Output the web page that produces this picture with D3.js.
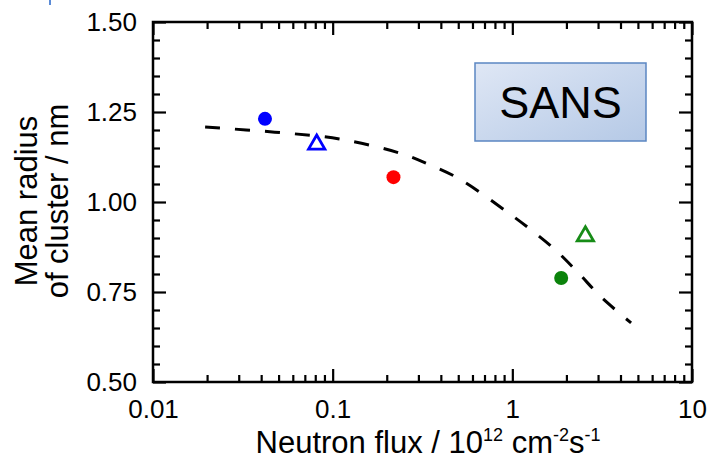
<!DOCTYPE html>
<html>
<head>
<meta charset="utf-8">
<script src="https://cdn.jsdelivr.net/npm/d3@7"></script>
<style>
  html, body { margin: 0; padding: 0; background: #fff; }
  svg { display: block; }
  text { font-family: "Liberation Sans", Arial, sans-serif; fill: #000; }
</style>
</head>
<body>
<svg id="chart" width="711" height="463"></svg>
<script>
// ---- data ----
const xTickValues = [0.01, 0.1, 1, 10];
const xTickLabels = ["0.01", "0.1", "1", "10"];
const yTickValues = [0.50, 0.75, 1.00, 1.25, 1.50];
const yTickLabels = ["0.50", "0.75", "1.00", "1.25", "1.50"];
const yMinorTicks = [0.55, 0.60, 0.65, 0.70, 0.80, 0.85, 0.90, 0.95, 1.05, 1.10, 1.15, 1.20, 1.30, 1.35, 1.40, 1.45];

const pointFlux   = [0.042, 0.0815, 0.218, 1.87, 2.55];
const pointRadius = [1.231, 1.160, 1.069, 0.789, 0.905];
const pointShape  = ["circle", "triangle", "circle", "circle", "triangle"];
const pointColor  = ["#0000ff", "#0000ff", "#ff0000", "#0b830b", "#178c17"];

const fitFlux   = [0.0195, 0.0476, 0.109, 0.2355, 0.3375, 0.508, 0.938, 1.275, 1.734, 2.33, 3.12, 4.58];
const fitRadius = [1.208, 1.194, 1.175, 1.136, 1.106, 1.064, 0.972, 0.922, 0.867, 0.803, 0.736, 0.664];

const xTitle = ["Neutron flux / 10", "12", " cm", "-2", "s", "-1"];
const yTitle = ["Mean radius", "of cluster / nm"];
const boxLabel = "SANS";

// ---- layout ----
const svg = d3.select("#chart");
const L = 153, R = 692, T = 22, B = 382;

const x = d3.scaleLog().domain([0.01, 10]).range([L, R]);
const y = d3.scaleLinear().domain([0.5, 1.5]).range([B, T]);

const xMinor = x.ticks().filter(v => !xTickValues.some(t => Math.abs(t - v) < 1e-9));

const fs = 26;
const titleFs = 31, supFs = 18;
const majorLen = 13, minorLen = 7;

function styleAxis(g) {
  g.select(".domain").remove();
  g.selectAll(".tick line").attr("stroke", "#000").attr("stroke-width", 2.2);
  g.selectAll("text").style("font-size", fs + "px").style("font-family", "Liberation Sans, Arial, sans-serif").attr("fill", "#000");
}

// bottom axis
svg.append("g").attr("transform", `translate(0,${B})`)
  .call(d3.axisBottom(x).tickValues(xTickValues).tickFormat((d, i) => xTickLabels[i]).tickSize(-majorLen).tickPadding(18))
  .call(styleAxis);
svg.append("g").attr("transform", `translate(0,${B})`)
  .call(d3.axisBottom(x).tickValues(xMinor).tickFormat("").tickSize(-minorLen))
  .call(styleAxis);
// top axis
svg.append("g").attr("transform", `translate(0,${T})`)
  .call(d3.axisTop(x).tickValues(xTickValues).tickFormat("").tickSize(-majorLen))
  .call(styleAxis);
svg.append("g").attr("transform", `translate(0,${T})`)
  .call(d3.axisTop(x).tickValues(xMinor).tickFormat("").tickSize(-minorLen))
  .call(styleAxis);
// left axis
svg.append("g").attr("transform", `translate(${L},0)`)
  .call(d3.axisLeft(y).tickValues(yTickValues).tickFormat((d, i) => yTickLabels[i]).tickSize(-majorLen).tickPadding(16))
  .call(styleAxis);
svg.append("g").attr("transform", `translate(${L},0)`)
  .call(d3.axisLeft(y).tickValues(yMinorTicks).tickFormat("").tickSize(-minorLen))
  .call(styleAxis);
// right axis
svg.append("g").attr("transform", `translate(${R},0)`)
  .call(d3.axisRight(y).tickValues(yTickValues).tickFormat("").tickSize(-majorLen))
  .call(styleAxis);
svg.append("g").attr("transform", `translate(${R},0)`)
  .call(d3.axisRight(y).tickValues(yMinorTicks).tickFormat("").tickSize(-minorLen))
  .call(styleAxis);

// frame
svg.append("rect").attr("x", L).attr("y", T).attr("width", R - L).attr("height", B - T)
  .attr("fill", "none").attr("stroke", "#000").attr("stroke-width", 2.5);

// fitted dashed curve
const fitData = fitFlux.map((f, i) => [f, fitRadius[i]]);
svg.append("path").datum(fitData)
  .attr("d", d3.line().x(d => x(d[0])).y(d => y(d[1])).curve(d3.curveCatmullRom.alpha(0.5)))
  .attr("fill", "none").attr("stroke", "#000").attr("stroke-width", 3)
  .attr("stroke-dasharray", "15,15");

// SANS box
const defs = svg.append("defs");
const grad = defs.append("linearGradient").attr("id", "boxgrad")
  .attr("x1", "0%").attr("y1", "0%").attr("x2", "100%").attr("y2", "100%");
grad.append("stop").attr("offset", "0%").attr("stop-color", "#dfe7f5");
grad.append("stop").attr("offset", "100%").attr("stop-color", "#b5c9e6");
svg.append("rect").attr("x", 475).attr("y", 63).attr("width", 171).attr("height", 78)
  .attr("fill", "url(#boxgrad)").attr("stroke", "#5b86c2").attr("stroke-width", 1.5);
svg.append("text").attr("x", 560.5).attr("y", 118).attr("text-anchor", "middle")
  .style("font-size", "45px").text(boxLabel);

// points
const pts = pointFlux.map((f, i) => ({ f, r: pointRadius[i], s: pointShape[i], c: pointColor[i] }));
const sym = d3.symbol();
svg.append("g").selectAll("path").data(pts).join("path")
  .attr("transform", d => `translate(${x(d.f)},${y(d.r)})`)
  .attr("d", d => d.s === "circle" ? sym.type(d3.symbolCircle).size(Math.PI * 7 * 7)() : sym.type(d3.symbolTriangle).size(115)())
  .attr("fill", d => d.s === "circle" ? d.c : "none")
  .attr("stroke", d => d.c)
  .attr("stroke-width", d => d.s === "circle" ? 0 : 2.8);

// axis titles
const xt = svg.append("text").attr("x", 428).attr("y", 453).attr("text-anchor", "middle").style("font-size", titleFs + "px");
xTitle.forEach((s, i) => {
  const sup = i % 2 === 1;
  xt.append("tspan").text(s)
    .attr("dy", sup ? -12 : (i > 0 ? 12 : 0))
    .style("font-size", sup ? supFs + "px" : titleFs + "px");
});

const yt = svg.append("text").attr("transform", "translate(0,201) rotate(-90)").attr("text-anchor", "middle").style("font-size", titleFs + "px");
yt.append("tspan").attr("x", 0).attr("y", 37).text(yTitle[0]);
yt.append("tspan").attr("x", 0).attr("y", 68).text(yTitle[1]);

// small blue mark at top-left edge
svg.append("line").attr("x1", 50).attr("x2", 50).attr("y1", 0).attr("y2", 5)
  .attr("stroke", "#5b8bd6").attr("stroke-width", 2);
</script>
</body>
</html>
